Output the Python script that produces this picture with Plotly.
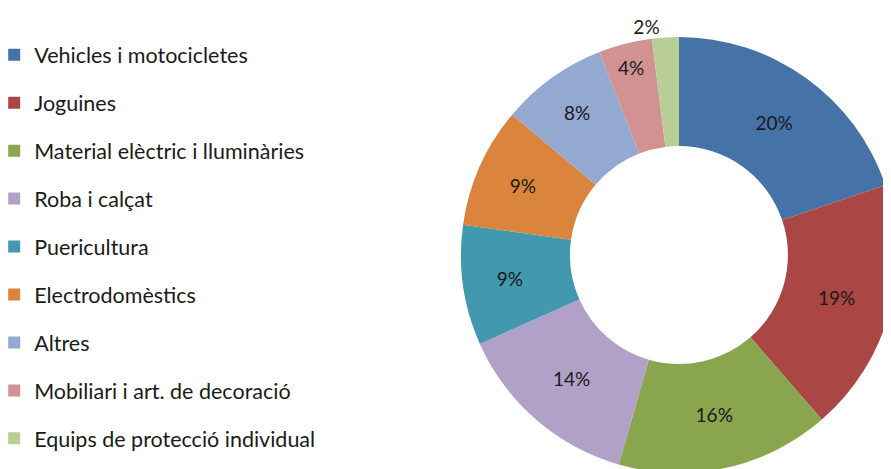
import plotly.graph_objects as go

categories = ["Vehicles i motocicletes", "Joguines", "Material elèctric i lluminàries",
              "Roba i calçat", "Puericultura", "Electrodomèstics", "Altres",
              "Mobiliari i art. de decoració", "Equips de protecció individual"]
percent = [20, 19, 16, 14, 9, 9, 8, 4, 2]
colors = ["#4572a7", "#aa4643", "#89a54e", "#b1a0c7", "#4198af",
          "#db843d", "#93a9cf", "#d19392", "#b9cd96"]

font = "Lato"

fig = go.Figure()
fig.add_trace(go.Pie(
    labels=categories, values=percent,
    marker=dict(colors=colors, line=dict(width=0)),
    hole=0.5, sort=False, direction="clockwise", rotation=0,
    texttemplate="%{value}%", textposition=["inside"] * 8 + ["outside"],
    insidetextorientation="horizontal",
    textfont=dict(family=font, size=19, color="#1a1a1a"),
    showlegend=False,
    domain=dict(x=[0.508, 0.998], y=[0.0085, 0.938]),
))

# legend entries, one group each so they can be spaced out
for name, c in zip(categories, colors):
    fig.add_trace(go.Scatter(x=[None], y=[None], mode="markers", name=name,
                             legendgroup=name,
                             marker=dict(symbol="square", size=12, color=c)))

fig.update_layout(
    width=891, height=469,
    margin=dict(l=0, r=0, t=0, b=0, autoexpand=False),
    paper_bgcolor="white", plot_bgcolor="white",
    xaxis=dict(visible=False), yaxis=dict(visible=False),
    legend=dict(x=-0.0155, y=0.944, xanchor="left", yanchor="top",
                font=dict(family=font, size=21.5, color="#1a1a1a"),
                tracegroupgap=17, itemclick=False),
)

# the page's default body margin offsets the chart; hide the scrollbars it causes
fig.write_html("out.html", post_script="document.body.style.overflow='hidden';")
